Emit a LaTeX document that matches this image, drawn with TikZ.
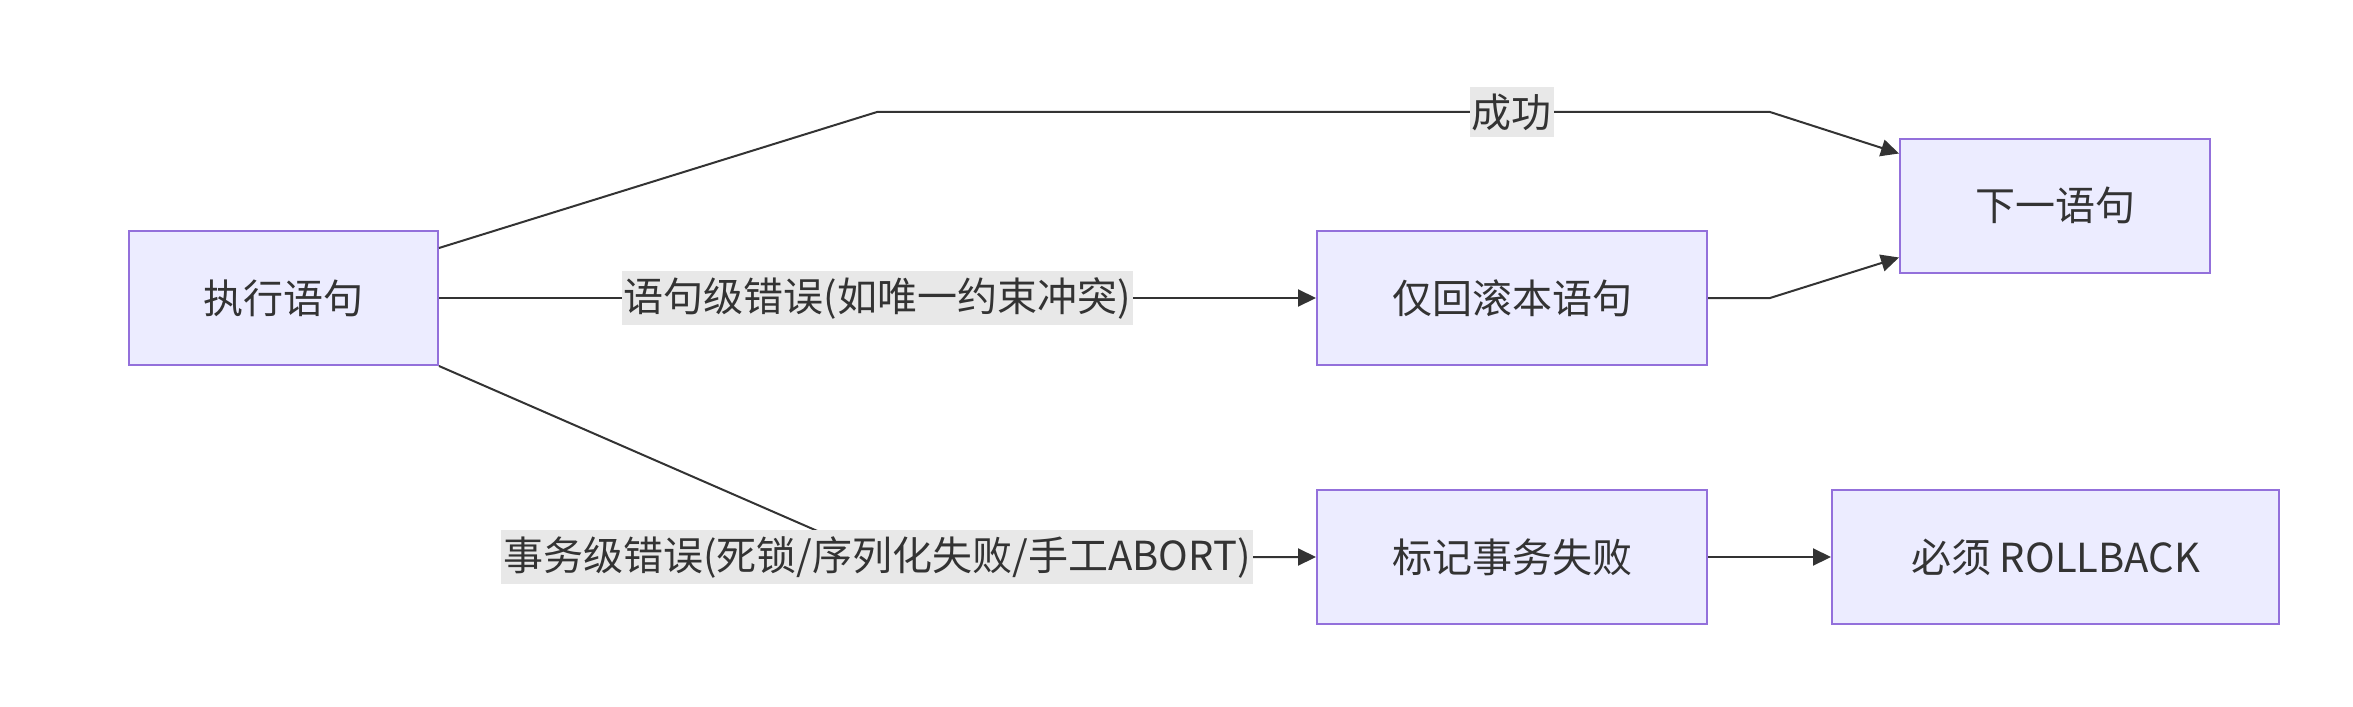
\documentclass[tikz,border=0pt]{standalone}
\usepackage{fontspec}
\setmainfont{Noto Sans CJK SC}
\usepackage{tikz}
\usetikzlibrary{arrows.meta}
\definecolor{boxfill}{HTML}{ECECFF}
\definecolor{boxline}{HTML}{9370DB}
\definecolor{ink}{HTML}{333333}
\definecolor{lblbg}{HTML}{E8E8E8}

\begin{document}
\begin{tikzpicture}[x=0.5pt,y=-0.5pt,
  box/.style={draw=boxline,fill=boxfill,line width=1pt,minimum height=67pt,inner sep=0pt,text=ink,font=\fontsize{20}{24}\selectfont},
  lbl/.style={fill=lblbg,text=ink,inner xsep=1pt,inner ysep=3pt,font=\fontsize{20}{24}\selectfont},
  link/.style={draw=ink,line width=1pt,-{Triangle[length=9pt,width=8.5pt]}}]
  \useasboundingbox (0,0) rectangle (2353,706);
  \node[box,minimum width=154.5pt] (exec) at (283.5,298) {执行语句};
  \node[box,minimum width=195pt] (rbstmt) at (1512,298) {仅回滚本语句};
  \node[box,minimum width=155pt] (next) at (2055,205.5) {下一语句};
  \node[box,minimum width=195pt] (mark) at (1512,557) {标记事务失败};
  \node[box,minimum width=223.5pt] (must) at (2055.5,557) {必须 ROLLBACK};
  \coordinate (s1) at (877,112);
  \coordinate (s2) at (1770,112);
  \coordinate (r1) at (1770,298);
  \coordinate (t1) at (877,557);
  \draw[link] ([yshift=-9pt]exec.north east) -- (s1) -- node[lbl,pos=0.711] {成功} (s2) -- ([yshift=-8pt]next.north west);
  \draw[link] (exec.east) -- node[lbl] {语句级错误(如唯一约束冲突)} (rbstmt.west);
  \draw[link] (rbstmt.east) -- (r1) -- ([yshift=8pt]next.south west);
  \draw[link] (exec.south east) -- (t1) node[lbl] {事务级错误(死锁/序列化失败/手工ABORT)} -- (mark.west);
  \draw[link] (mark.east) -- (must.west);
\end{tikzpicture}
\end{document}
